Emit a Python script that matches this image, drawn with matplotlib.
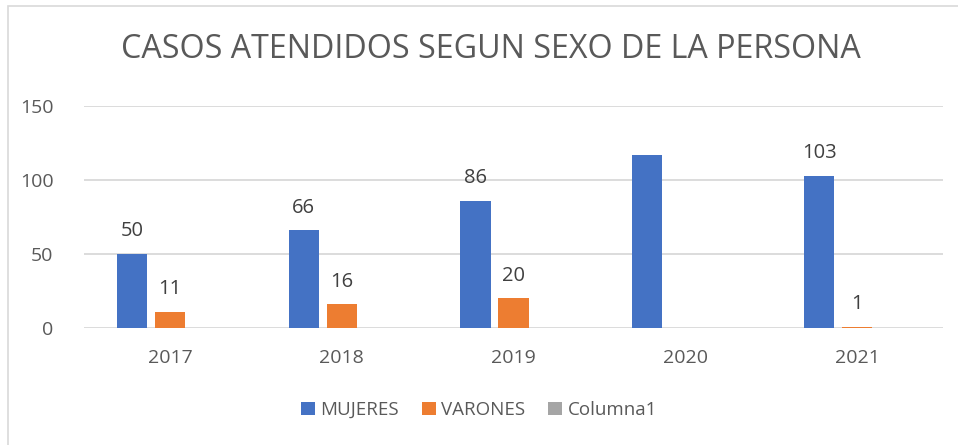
import numpy as np
import matplotlib.pyplot as plt
from matplotlib.patches import Rectangle

plt.rcParams['font.family'] = ['Open Sans', 'DejaVu Sans']

years = ['2017', '2018', '2019', '2020', '2021']
mujeres = [50, 66, 86, 117, 103]
varones = [11, 16, 20, np.nan, 1]
columna1 = [np.nan, np.nan, np.nan, np.nan, np.nan]
mujeres_labels = ['50', '66', '86', '', '103']
varones_labels = ['11', '16', '20', '', '1']

text_color = '#595959'
W, H = 958, 445
fig = plt.figure(figsize=(W / 100, H / 100), dpi=100)
ax = fig.add_axes([84 / W, 1 - 328 / H, (943 - 84) / W, (328 - 106) / H])

x = np.arange(len(years))
bw = 0.175
off = 0.221
b1 = ax.bar(x - off, mujeres, bw, color='#4472C4', label='MUJERES')
b2 = ax.bar(x, varones, bw, color='#ED7D31', label='VARONES')
b3 = ax.bar(x + off, columna1, bw, color='#A5A5A5', label='Columna1')

ax.bar_label(b1, labels=mujeres_labels, padding=9, fontsize=14.5, color='#404040')
ax.bar_label(b2, labels=varones_labels, padding=9, fontsize=14.5, color='#404040')

ax.set_xlim(-0.5, len(years) - 0.5)
ax.set_ylim(0, 150)
ax.set_yticks([0, 50, 100, 150])
ax.set_xticks(x)
ax.set_xticklabels(years)
ax.tick_params(axis='both', length=0, labelsize=14, colors=text_color)
ax.tick_params(axis='y', pad=22)
ax.tick_params(axis='x', pad=15)
ax.grid(axis='y', color='#D9D9D9', linewidth=1.3)
ax.set_axisbelow(True)
for s in ax.spines.values():
    s.set_visible(False)

fig.text(491 / W, 1 - 49 / H, 'CASOS ATENDIDOS SEGUN SEXO DE LA PERSONA',
         ha='center', va='center', fontsize=23.2, color=text_color)

fig.legend(handles=[b1, b2, b3], loc='center', bbox_to_anchor=(479 / W, 1 - 410 / H),
           ncol=3, frameon=False, fontsize=13.5, labelcolor=text_color,
           handlelength=0.75, handleheight=0.75, handletextpad=0.3, columnspacing=1.2)

fig.patches.append(Rectangle((8 / W, -0.1), 1.2, 1 - 6 / H + 0.1, transform=fig.transFigure,
                             fill=False, edgecolor='#D9D9D9', linewidth=1.2))

fig.savefig('out.png', dpi=100)
